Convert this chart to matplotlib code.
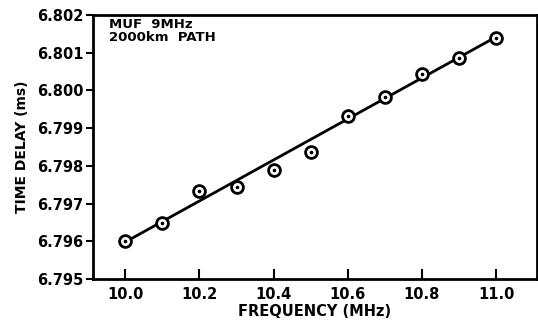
import matplotlib
matplotlib.use("Agg")
import matplotlib.pyplot as plt

freq_mhz = [10.0, 10.1, 10.2, 10.3, 10.4, 10.5, 10.6, 10.7, 10.8, 10.9, 11.0]
delay_ms = [6.7960, 6.79647, 6.79734, 6.79745, 6.79789, 6.79837,
            6.79932, 6.79982, 6.80044, 6.80087, 6.80139]
fit_freq = [10.0, 11.0]
fit_delay = [6.79598, 6.80142]

x_ticks = [10.0, 10.2, 10.4, 10.6, 10.8, 11.0]
y_ticks = [6.795, 6.796, 6.797, 6.798, 6.799, 6.800, 6.801, 6.802]
y_tick_labels = ["6.795", "6.796", "6.797", "6.798", "6.799", "6.800", "6.801", "6.802"]

plt.rcParams["font.family"] = ["DejaVu Sans"]
plt.rcParams["font.weight"] = "bold"

fig = plt.figure(figsize=(5.38, 3.34), dpi=100)
ax = fig.add_axes([0.173, 0.165, 0.825, 0.79])

ax.plot(fit_freq, fit_delay, color="black", linewidth=2.0, zorder=2)
ax.plot(freq_mhz, delay_ms, linestyle="none", marker="o", markersize=8.5,
        markerfacecolor="white", markeredgecolor="black", markeredgewidth=2.0, zorder=3)
ax.plot(freq_mhz, delay_ms, linestyle="none", marker="o", markersize=1.6,
        markerfacecolor="black", markeredgecolor="black", zorder=4)

ax.set_xlim(9.913, 11.11)
ax.set_ylim(6.795, 6.802)
ax.set_xticks(x_ticks)
ax.set_xticklabels([f"{v:.1f}" for v in x_ticks])
ax.set_yticks(y_ticks)
ax.set_yticklabels(y_tick_labels)

ax.tick_params(axis="x", direction="in", length=7, width=1.5, labelsize=10.5, pad=6)
ax.tick_params(axis="y", direction="out", length=5, width=1.5, labelsize=10.5, pad=2)
for s in ax.spines.values():
    s.set_linewidth(2.0)

ax.set_xlabel("FREQUENCY (MHz)", fontsize=10.5, fontweight="bold", labelpad=1)
ax.set_ylabel("TIME DELAY (ms)", fontsize=10, fontweight="bold", labelpad=6)

ax.text(0.035, 0.99, "MUF  9MHz\n2000km  PATH", transform=ax.transAxes,
        ha="left", va="top", fontsize=9.5, fontweight="bold", linespacing=1.0)

fig.savefig("out.png", dpi=100)
